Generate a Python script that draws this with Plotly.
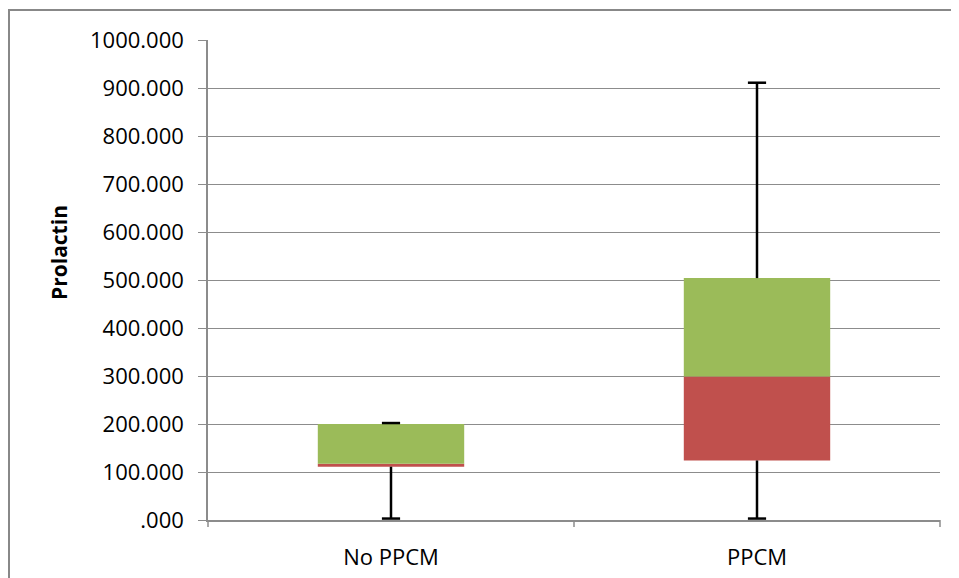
import plotly.graph_objects as go

categories = ["No PPCM", "PPCM"]
minimum = [3, 3]
q1 = [111, 124]
median = [117, 299]
q3 = [200, 504]
maximum = [202, 911]

tick_vals = [0, 100, 200, 300, 400, 500, 600, 700, 800, 900, 1000]
tick_text = [".000", "100.000", "200.000", "300.000", "400.000", "500.000",
             "600.000", "700.000", "800.000", "900.000", "1000.000"]

RED = "#C0504D"
GREEN = "#9BBB59"
GRID = "#8C8C8C"
FONT = "Open Sans"

fig = go.Figure()

# lower box part (Q1 -> median)
fig.add_trace(go.Bar(
    x=categories, y=[m - a for m, a in zip(median, q1)], base=q1,
    marker=dict(color=RED, line=dict(width=0)), width=0.4, showlegend=False,
    hoverinfo="skip"))
# upper box part (median -> Q3)
fig.add_trace(go.Bar(
    x=categories, y=[b - m for b, m in zip(q3, median)], base=median,
    marker=dict(color=GREEN, line=dict(width=0)), width=0.4, showlegend=False,
    hoverinfo="skip"))

# whisker lines
wx, wy = [], []
for c, lo, a, b, hi in zip(categories, minimum, q1, q3, maximum):
    wx += [c, c, None, c, c, None]
    wy += [b, hi, None, a, lo, None]
fig.add_trace(go.Scatter(x=wx, y=wy, mode="lines",
                         line=dict(color="black", width=2.5),
                         showlegend=False, hoverinfo="skip"))
# whisker caps
fig.add_trace(go.Scatter(
    x=categories + categories, y=maximum + minimum, mode="markers",
    marker=dict(symbol="line-ew", size=13, line=dict(color="black", width=2.5)),
    showlegend=False, hoverinfo="skip"))

# page body has an 8px margin, so the figure is placed at (8, 8)
W, H = 951, 570
L, R, T, B = 200, 19, 32, 58
pw = W - L - R
ph = H - T - B

fig.update_layout(
    width=W, height=H,
    margin=dict(l=L, r=R, t=T, b=B, autoexpand=False),
    plot_bgcolor="white", paper_bgcolor="white",
    barmode="overlay",
    font=dict(family=FONT, size=22, color="black"),
    xaxis=dict(
        type="category", range=[-0.5, 1.5], automargin=False,
        showgrid=False, showline=True, linecolor=GRID, linewidth=1.5,
        ticks="", tickfont=dict(family=FONT, size=22, color="black"),
        ticklabelstandoff=17, fixedrange=True, zeroline=False,
    ),
    yaxis=dict(
        range=[0, 1000], tickvals=tick_vals, ticktext=tick_text,
        automargin=False,
        showgrid=True, gridcolor=GRID, gridwidth=1.3,
        showline=True, linecolor=GRID, linewidth=1.5,
        ticks="outside", ticklen=8, tickcolor=GRID, tickwidth=1.3,
        tickfont=dict(family=FONT, size=22, color="black"),
        ticklabelstandoff=10,
        zeroline=False, fixedrange=True,
    ),
    shapes=[
        # chart outer border
        dict(type="rect", xref="paper", yref="paper",
             x0=(1 - L) / pw, x1=(W + 20 - L) / pw,
             y0=-(B + 20) / ph, y1=(ph + T - 2) / ph,
             line=dict(color="#888888", width=2), fillcolor="rgba(0,0,0,0)",
             layer="below"),
        # x-axis category boundary ticks
        dict(type="line", xref="paper", yref="paper", x0=0, x1=0,
             y0=0, y1=-7 / ph, line=dict(color=GRID, width=1.5)),
        dict(type="line", xref="paper", yref="paper", x0=0.5, x1=0.5,
             y0=0, y1=-7 / ph, line=dict(color=GRID, width=1.5)),
        dict(type="line", xref="paper", yref="paper", x0=1, x1=1,
             y0=0, y1=-7 / ph, line=dict(color=GRID, width=1.5)),
    ],
    annotations=[
        dict(text="<b>Prolactin</b>", xref="paper", yref="paper",
             x=(51 - L) / pw, y=(H - B - 245) / ph, textangle=-90,
             showarrow=False, xanchor="center", yanchor="middle",
             font=dict(family=FONT, size=21, color="black")),
    ],
)

fig.write_html("out.html")
